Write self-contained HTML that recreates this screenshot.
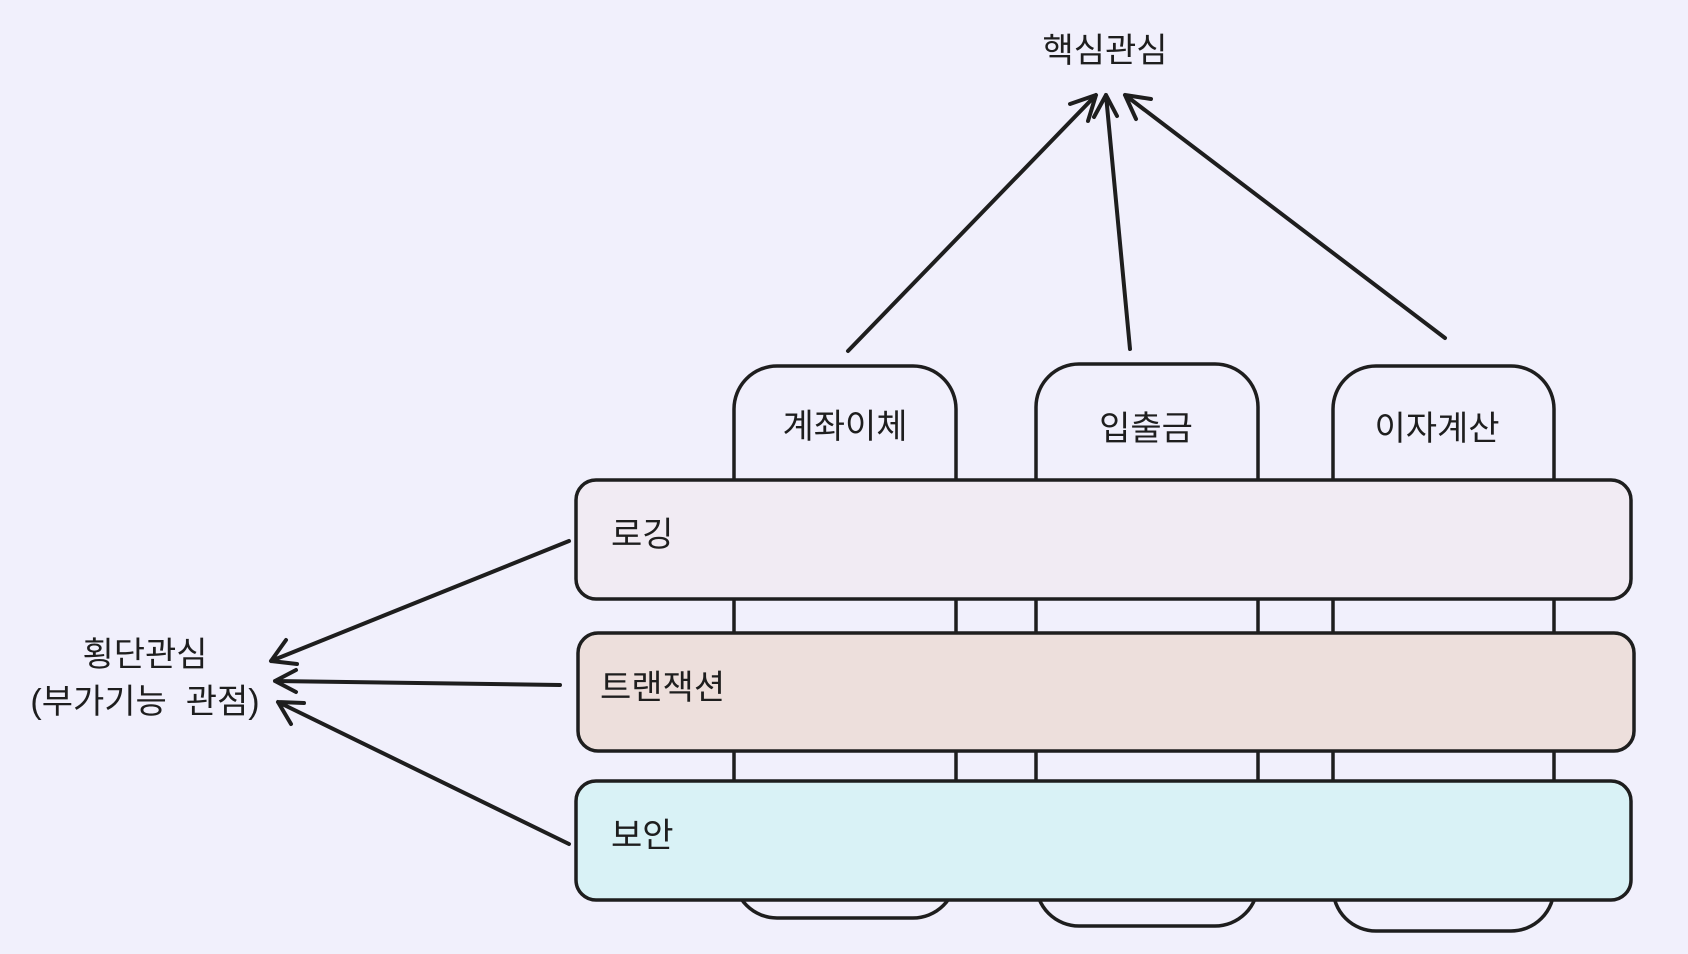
<!DOCTYPE html>
<html><head><meta charset="utf-8"><style>
html,body{margin:0;padding:0;background:#f1f0fc;}
svg{display:block}
text{font-family:"Liberation Sans","Noto Sans CJK KR","NanumGothic",sans-serif;font-size:34px;fill:#1e1e1e;}
</style></head><body>
<svg width="1688" height="954" viewBox="0 0 1688 954" xmlns="http://www.w3.org/2000/svg">
<rect width="1688" height="954" fill="#f1f0fc"/>
<g fill="#f1f0fc" stroke="#1e1e1e" stroke-width="3.5">
<rect x="734" y="366" width="222" height="552" rx="43"/>
<rect x="1036" y="364" width="222" height="562" rx="43"/>
<rect x="1333" y="366" width="221" height="565" rx="43"/>
</g>
<g stroke="#1e1e1e" stroke-width="3.5">
<rect x="576" y="480" width="1055" height="119" rx="20" fill="#f1ebf3"/>
<rect x="578" y="633" width="1056" height="118" rx="20" fill="#eddfdc"/>
<rect x="576" y="781" width="1055" height="119" rx="20" fill="#d9f2f6"/>
</g>
<g stroke="#1e1e1e" stroke-width="4" fill="none" stroke-linecap="round" stroke-linejoin="round">
<path d="M848 351 L1096 95 M1070 104 L1096 95 L1088 121"/>
<path d="M1130 349 L1106 95 M1094 117 L1106 95 L1117 116"/>
<path d="M1445 338 L1125 95 M1136 119 L1125 95 L1151 99"/>
<path d="M569 541 L271 661 M286 640 L271 661 L297 664"/>
<path d="M560 685 L275 681 M296 670 L275 681 L296 692"/>
<path d="M569 844 L278 702 M291 724 L278 702 L304 703"/>
</g>
<g text-anchor="middle">
<text x="1105" y="62">핵심관심</text>
<text x="845" y="438">계좌이체</text>
<text x="1146" y="440">입출금</text>
<text x="1437" y="440">이자계산</text>
<text x="145" y="666">횡단관심</text>
<text x="145" y="713" xml:space="preserve">(부가기능  관점)</text>
</g>
<text x="611" y="546">로깅</text>
<text x="600" y="699">트랜잭션</text>
<text x="611" y="847">보안</text>
</svg>
</body></html>
